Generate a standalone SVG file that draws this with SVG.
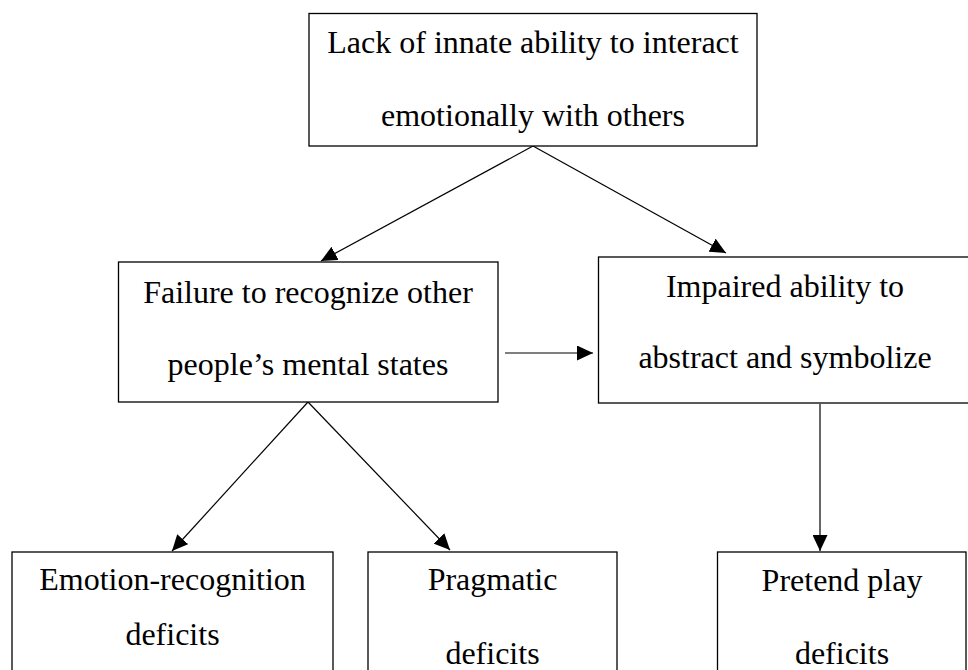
<svg xmlns="http://www.w3.org/2000/svg" width="968" height="670" viewBox="0 0 968 670">
  <defs>
    <marker id="arrow" markerUnits="userSpaceOnUse" markerWidth="16" markerHeight="15" refX="16" refY="7.5" orient="auto">
      <path d="M0,0 L16,7.5 L0,15 z" fill="#000"/>
    </marker>
    <style>
      .box { fill: #fff; stroke: #000; stroke-width: 1.3; }
      .lbl { font-family: "Liberation Serif", "Times New Roman", serif; font-size: 32px; fill: #000; text-anchor: middle; }
      .edge { fill: none; stroke: #000; stroke-width: 1.2; marker-end: url(#arrow); }
    </style>
  </defs>
  <rect width="968" height="670" fill="#fff"/>

  <g id="connectors">
    <line class="edge" x1="533" y1="146" x2="321" y2="261"/>
    <line class="edge" x1="533" y1="146" x2="726" y2="253"/>
    <line class="edge" x1="505" y1="353" x2="593" y2="353"/>
    <line class="edge" x1="820" y1="404" x2="820" y2="551"/>
    <line class="edge" x1="308" y1="402" x2="172" y2="551"/>
    <line class="edge" x1="308" y1="402" x2="450" y2="550"/>
  </g>

  <g id="lack-of-ability">
    <rect class="box" x="309" y="13.5" width="448" height="132.5"/>
    <text class="lbl" x="533" y="53">Lack of innate ability to interact</text>
    <text class="lbl" x="533" y="126">emotionally with others</text>
  </g>

  <g id="failure-to-recognize">
    <rect class="box" x="118.5" y="262" width="379.5" height="140"/>
    <text class="lbl" x="308" y="303">Failure to recognize other</text>
    <text class="lbl" x="308" y="375">people’s mental states</text>
  </g>

  <g id="impaired-ability">
    <rect class="box" x="598.5" y="257" width="372" height="146"/>
    <text class="lbl" x="785" y="297">Impaired ability to</text>
    <text class="lbl" x="785" y="368">abstract and symbolize</text>
  </g>

  <g id="emotion-recognition">
    <rect class="box" x="12" y="552" width="321" height="130"/>
    <text class="lbl" x="172.5" y="590">Emotion-recognition</text>
    <text class="lbl" x="172.5" y="645">deficits</text>
  </g>

  <g id="pragmatic">
    <rect class="box" x="368" y="552" width="249" height="130"/>
    <text class="lbl" x="492.5" y="590">Pragmatic</text>
    <text class="lbl" x="492.5" y="664">deficits</text>
  </g>

  <g id="pretend-play">
    <rect class="box" x="717.5" y="552" width="248.5" height="130"/>
    <text class="lbl" x="842" y="591">Pretend play</text>
    <text class="lbl" x="842" y="664">deficits</text>
  </g>
</svg>
